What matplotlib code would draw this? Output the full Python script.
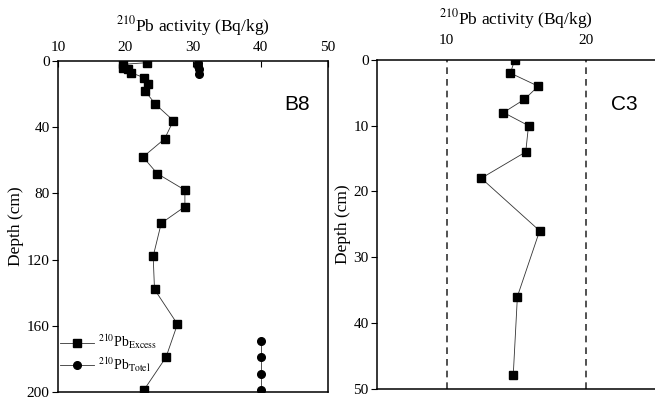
import matplotlib
matplotlib.use("Agg")
import matplotlib.pyplot as plt

plt.rcParams['font.family'] = ['Liberation Serif', 'DejaVu Serif']
plt.rcParams['mathtext.fontset'] = 'stix'

# B8 core
b8_excess_x = [23.2, 19.6, 19.7, 20.3, 20.8, 22.7, 23.3, 22.9, 24.4, 27.1, 25.8,
               22.6, 24.7, 28.8, 28.8, 25.3, 24.1, 24.3, 27.7, 26.0, 22.7]
b8_excess_depth = [1, 2, 4, 5, 7, 10, 14, 18, 26, 36, 47,
                   58, 68, 78, 88, 98, 118, 138, 159, 179, 199]
b8_total_top_x = [30.8, 30.8, 30.9, 30.9]
b8_total_top_depth = [1, 3, 5, 8]
b8_total_bot_x = [40.0, 40.0, 40.0, 40.0]
b8_total_bot_depth = [169, 179, 189, 199]

# C3 core
c3_x = [14.9, 14.6, 16.6, 15.6, 14.1, 15.9, 15.7, 12.5, 16.7, 15.1, 14.8]
c3_depth = [0, 2, 4, 6, 8, 10, 14, 18, 26, 36, 48]

fig = plt.figure(figsize=(6.55, 3.97), dpi=100)
ax1 = fig.add_axes([0.0885, 0.0126, 0.4123, 0.8337])
ax2 = fig.add_axes([0.5756, 0.0214, 0.4244, 0.8276])

ms = 5.5
lw = 0.6
lc = '#333333'
tfs = 11
lfs = 12.5

ax1.plot(b8_excess_x, b8_excess_depth, '-', color=lc, lw=lw, marker='s', ms=ms,
         mfc='black', mec='black', label=r'$^{210}$Pb$_{\rm Excess}$')
ax1.plot(b8_total_top_x, b8_total_top_depth, '-', color=lc, lw=lw, marker='o', ms=ms,
         mfc='black', mec='black', label=r'$^{210}$Pb$_{\rm Totel}$')
ax1.plot(b8_total_bot_x, b8_total_bot_depth, '-', color=lc, lw=lw, marker='o', ms=ms,
         mfc='black', mec='black')
ax1.set_xlim(10, 50)
ax1.set_ylim(200, 0)
ax1.set_xticks([10, 20, 30, 40, 50])
ax1.set_yticks([0, 40, 80, 120, 160, 200])
ax1.xaxis.set_ticks_position('top')
ax1.xaxis.set_label_position('top')
ax1.tick_params(axis='x', direction='in', length=4, labelsize=tfs, pad=5)
ax1.tick_params(axis='y', direction='out', length=4, labelsize=tfs, pad=2)
ax1.set_xlabel(r'$^{210}$Pb activity (Bq/kg)', fontsize=lfs, labelpad=7)
ax1.set_ylabel('Depth (cm)', fontsize=lfs, labelpad=2)
ax1.text(0.885, 0.87, 'B8', transform=ax1.transAxes, fontsize=15,
         family='Liberation Sans', ha='center', va='center')
leg = ax1.legend(loc='lower left', bbox_to_anchor=(-0.025, 0.03), frameon=False,
                 fontsize=10, handlelength=2.5, handletextpad=0.3, labelspacing=0.3,
                 borderaxespad=0.2)

ax2.plot(c3_x, c3_depth, '-', color=lc, lw=lw, marker='s', ms=ms,
         mfc='black', mec='black')
for xv in [10, 20]:
    ax2.axvline(xv, color='#333333', lw=1.2, ls=(0, (4, 3)))
ax2.set_xlim(5, 25)
ax2.set_ylim(50, 0)
ax2.set_xticks([10, 20])
ax2.set_yticks([0, 10, 20, 30, 40, 50])
ax2.xaxis.set_ticks_position('top')
ax2.xaxis.set_label_position('top')
ax2.tick_params(axis='x', direction='in', length=0, labelsize=tfs, pad=9)
ax2.tick_params(axis='y', direction='out', length=4, labelsize=tfs, pad=2)
ax2.set_xlabel(r'$^{210}$Pb activity (Bq/kg)', fontsize=lfs, labelpad=7)
ax2.set_ylabel('Depth (cm)', fontsize=lfs, labelpad=2)
ax2.spines['right'].set_visible(False)
ax2.text(0.89, 0.865, 'C3', transform=ax2.transAxes, fontsize=15,
         family='Liberation Sans', ha='center', va='center')

for ax in (ax1, ax2):
    for s in ax.spines.values():
        s.set_linewidth(1.1)

fig.savefig('out.png', dpi=100)
